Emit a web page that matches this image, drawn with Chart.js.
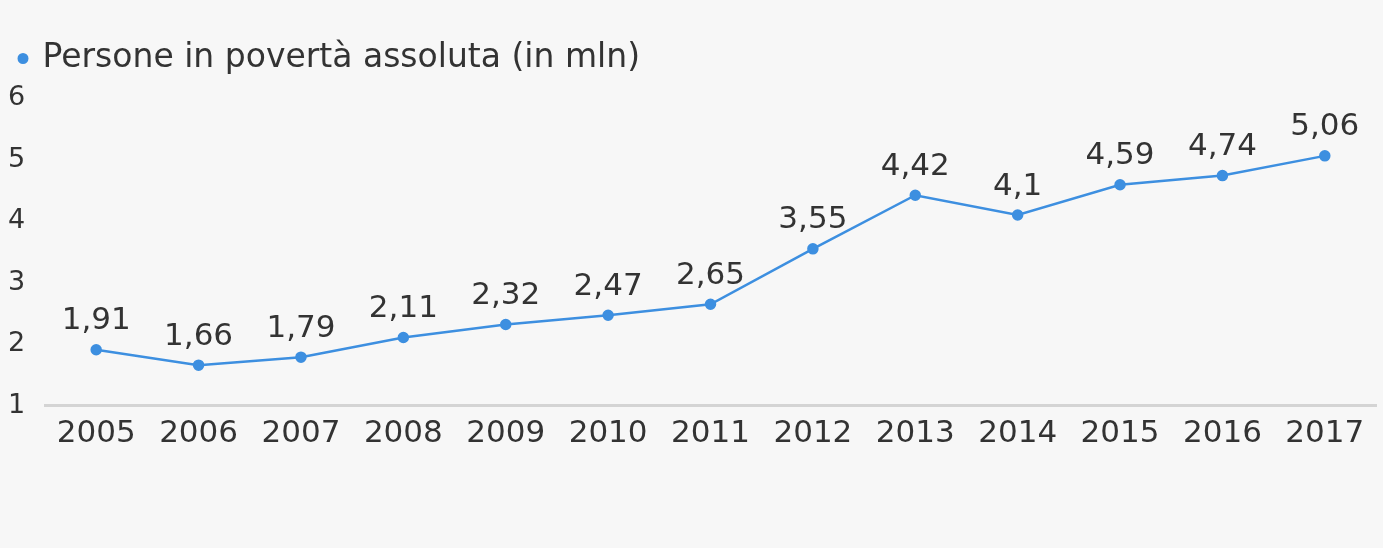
<!DOCTYPE html>
<html>
<head>
<meta charset="utf-8">
<script src="https://cdn.jsdelivr.net/npm/chart.js@4/dist/chart.umd.min.js"></script>
<style>
  html, body { margin: 0; padding: 0; background: #f7f7f7; }
  #wrap { width: 1383px; height: 548px; position: relative; }
</style>
</head>
<body>
<div id="wrap"><canvas id="lineChart"></canvas></div>
<script>
// data
const years = ["2005", "2006", "2007", "2008", "2009", "2010", "2011", "2012", "2013", "2014", "2015", "2016", "2017"];
const persone = [1.91, 1.66, 1.79, 2.11, 2.32, 2.47, 2.65, 3.55, 4.42, 4.1, 4.59, 4.74, 5.06];
const seriesName = "Persone in povertà assoluta (in mln)";
const yTicks = [1, 2, 3, 4, 5, 6];

const lineColor = "#3d8fe0";
const textColor = "#333333";

// write the value over each point, italian decimal comma
const valueLabels = {
    id: "valueLabels",
    afterDatasetsDraw(chart) {
        let ctx = chart.ctx;
        let meta = chart.getDatasetMeta(0);
        ctx.save();
        ctx.font = "31px 'DejaVu Sans'";
        ctx.fillStyle = textColor;
        ctx.textAlign = "center";
        ctx.textBaseline = "bottom";
        meta.data.forEach(function (pt, i) {
            let txt = String(persone[i]).replace(".", ",");
            ctx.fillText(txt, pt.x, pt.y - 13);
        });
        ctx.restore();
    }
};

// extra room under the legend
const legendGap = {
    id: "legendGap",
    beforeInit(chart) {
        let origFit = chart.legend.fit;
        chart.legend.fit = function () {
            origFit.bind(chart.legend)();
            this.height += 13;
        };
    }
};

let ctx = document.getElementById("lineChart").getContext("2d");
let myChart = new Chart(ctx, {
    type: "line",
    data: {
        labels: years,
        datasets: [{
            label: seriesName,
            data: persone,
            borderColor: lineColor,
            backgroundColor: lineColor,
            borderWidth: 2.5,
            pointRadius: 4.5,
            pointHoverRadius: 4.5,
            tension: 0
        }]
    },
    options: {
        responsive: true,
        maintainAspectRatio: false,
        animation: false,
        layout: { padding: { left: 8, right: -5, top: 30, bottom: 85 } },
        plugins: {
            legend: {
                align: "start",
                labels: {
                    usePointStyle: true,
                    pointStyle: "circle",
                    boxWidth: 6,
                    boxHeight: 6,
                    color: textColor,
                    font: { family: "DejaVu Sans", size: 33 },
                    padding: 12
                }
            },
            tooltip: { enabled: false }
        },
        scales: {
            x: {
                offset: true,
                grid: { display: false, drawTicks: false },
                border: { display: true, color: "#d4d4d4", width: 3 },
                ticks: {
                    color: textColor,
                    font: { family: "DejaVu Sans", size: 31 },
                    padding: 10,
                    maxRotation: 0
                }
            },
            y: {
                min: 1,
                max: 6,
                afterBuildTicks: function (axis) {
                    axis.ticks = yTicks.map(function (v) { return { value: v }; });
                },
                afterFit: function (axis) {
                    axis.width = 37;
                },
                grid: { display: false, drawTicks: false },
                border: { display: false },
                ticks: {
                    color: textColor,
                    font: { family: "DejaVu Sans", size: 27 },
                    crossAlign: "far",
                    padding: 10
                }
            }
        }
    },
    plugins: [valueLabels, legendGap]
});
</script>
</body>
</html>
